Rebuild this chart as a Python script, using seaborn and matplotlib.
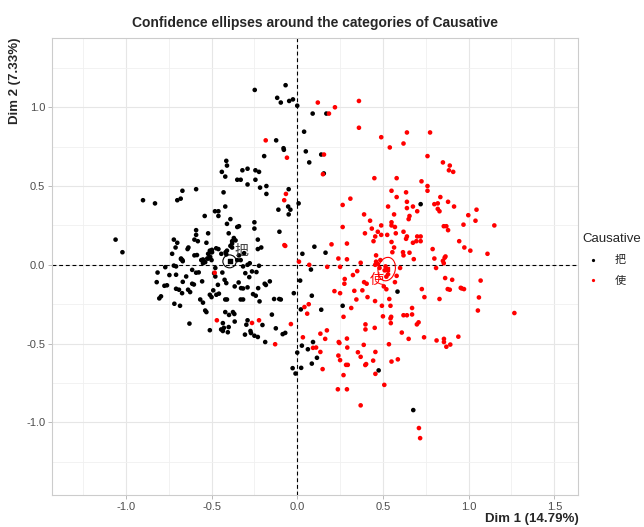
import numpy as np
import pandas as pd
import matplotlib
matplotlib.use("Agg")
import matplotlib.pyplot as plt
from matplotlib.patches import Ellipse
import seaborn as sns

# individuals, category 把 (Dim 1, Dim 2)
ba_x = [-0.248, -0.068, -0.117, -0.096, -0.047, -0.025, 0.0, -0.123, -0.08, -0.078,
        -0.193, -0.414, -0.41, -0.44, -0.42, -0.32, -0.29, -0.244, -0.223, -0.244,
        -0.35, -0.33, -0.29, -0.217, -0.18, -0.18, -0.05, -0.053, -0.04, -0.05,
        0.008, -0.11, -0.104, -0.90, -0.83, -0.70, -0.68, -0.67, -0.59, -0.43,
        -0.42, -0.48, -0.46, -0.46, -0.54, -0.39, -0.41, -0.35, -0.34, -0.40,
        -0.37, -0.38, -0.36, -0.25, -0.25, -0.23, -0.23, -0.21, -0.59, -0.59,
        -0.60, -0.58, -0.52, -0.53, -0.72, -0.70, -0.71, -0.73, -0.67, -0.678,
        -0.64, -0.635, -0.60, -0.585, -0.55, -0.51, -0.497, -0.50, -0.525, -0.56,
        -0.46, -0.41, -0.38, -0.418, -1.06, -1.02, -0.35, -0.29, -0.277, 0.03,
        0.04, 0.05, 0.09, 0.17, 0.07, 0.14, 0.155, 0.72, 0.10, 0.165,
        0.08, 0.585, 0.677, 0.475, 0.021, 0.14, 0.265, 0.085, 0.017, -0.02,
        -0.096, 0.092, 0.062, 0.115, 0.085, 0.027, 0.0, 0.023, -0.01, -0.027,
        -0.085, -0.07, -0.815, -0.82, -0.76, -0.775, -0.795, -0.805, -0.717, -0.684,
        -0.746, -0.707, -0.77, -0.707, -0.72, -0.668, -0.707, -0.69, -0.672, -0.648,
        -0.637, -0.625, -0.613, -0.603, -0.613, -0.59, -0.575, -0.555, -0.566, -0.55,
        -0.537, -0.53, -0.51, -0.50, -0.49, -0.485, -0.478, -0.463, -0.472, -0.457,
        -0.437, -0.424, -0.414, -0.42, -0.41, -0.42, -0.375, -0.398, -0.367, -0.434,
        -0.428, -0.444, -0.434, -0.40, -0.405, -0.365, -0.51, -0.629, -0.365, -0.342,
        -0.328, -0.316, -0.316, -0.33, -0.303, -0.28, -0.264, -0.238, -0.316, -0.29,
        -0.258, -0.242, -0.228, -0.22, -0.19, -0.183, -0.16, -0.135, -0.105, -0.148,
        -0.125, -0.29, -0.297, -0.203, -0.273, -0.27, -0.25, -0.23, -0.305, -0.187,
        -0.478, -0.678, -0.668, -0.55, -0.537, -0.52, -0.508, -0.52, -0.505, -0.498,
        -0.473, -0.443, -0.414, -0.39, -0.38, -0.34, -0.33, -0.223, -0.31]
ba_y = [1.11, 1.14, 1.06, 1.03, 1.04, 1.05, 1.01, 0.79, 0.74, 0.73,
        0.69, 0.66, 0.63, 0.59, 0.56, 0.60, 0.61, 0.60, 0.59, 0.54,
        0.54, 0.54, 0.51, 0.49, 0.50, 0.45, 0.48, 0.37, 0.35, 0.32,
        0.39, 0.35, 0.21, 0.41, 0.39, 0.41, 0.42, 0.47, 0.48, 0.46,
        0.37, 0.34, 0.34, 0.31, 0.31, 0.29, 0.26, 0.24, 0.245, 0.20,
        0.17, 0.15, 0.155, 0.27, 0.23, 0.16, 0.10, 0.11, 0.22, 0.19,
        0.16, 0.15, 0.20, 0.14, 0.16, 0.14, 0.11, 0.07, 0.03, 0.04,
        0.10, 0.11, 0.06, 0.062, 0.01, 0.09, 0.08, 0.03, 0.04, 0.03,
        0.10, 0.09, 0.11, 0.08, 0.16, 0.08, 0.03, 0.00, 0.01, 0.07,
        0.845, 0.72, 0.96, 0.96, 0.65, 0.70, 0.58, 0.385, 0.115, 0.077,
        -0.03, -0.17, -0.922, -0.67, -0.283, -0.285, -0.26, -0.196, -0.1, -0.18,
        -0.22, -0.49, -0.536, -0.59, -0.627, -0.513, -0.557, -0.654, -0.69, -0.656,
        -0.44, -0.432, -0.049, -0.11, -0.13, -0.133, -0.20, -0.213, -0.247, -0.26,
        -0.065, -0.063, -0.015, -0.01, -0.005, -0.108, -0.152, -0.158, -0.18, -0.074,
        -0.158, -0.173, -0.12, -0.125, -0.032, -0.05, -0.048, -0.105, -0.22, -0.24,
        -0.29, -0.30, -0.19, -0.205, -0.162, -0.053, -0.074, -0.127, -0.19, -0.183,
        -0.049, -0.095, -0.116, -0.22, -0.22, -0.30, -0.30, -0.318, -0.312, -0.37,
        -0.40, -0.41, -0.42, -0.395, -0.428, -0.36, -0.415, -0.373, -0.137, -0.112,
        -0.148, -0.15, -0.22, -0.22, -0.053, -0.078, -0.042, -0.046, -0.01, -0.143,
        -0.186, -0.196, -0.148, -0.232, -0.12, -0.128, -0.105, -0.217, -0.217, -0.316,
        -0.403, -0.352, -0.38, -0.382, -0.42, -0.433, -0.45, -0.458, -0.443, -0.49,
        -0.02, 0.036, 0.023, 0.034, 0.017, 0.04, 0.05, 0.07, 0.08, 0.095,
        0.105, 0.07, 0.066, 0.12, 0.135, 0.06, 0.03, -0.006, 0.074]

# individuals, category 使
shi_x = [-0.184, -0.06, -0.066, -0.076, -0.07, -0.075, 0.01, 0.07, 0.12, 0.22,
         0.36, 0.185, 0.36, 0.49, 0.64, 0.775, 0.62, 0.54, 0.156, 0.15,
         0.76, 0.85, 0.89, 0.885, 0.91, 0.45, 0.58, 0.725, 0.76, 0.76,
         0.55, 0.58, 0.635, 0.835, 0.31, 0.265, 0.64, 0.80, 0.82, 0.88,
         0.675, 0.64, 0.53, 0.82, 0.83, 0.915, 0.70, 0.655, 0.565, 0.39,
         0.998, 1.046, 1.04, 0.425, 0.65, 0.55, 0.55, 0.57, 0.49, 0.265,
         0.435, 0.395, 0.47, 0.525, 0.575, 0.49, 0.455, 0.62, 0.855, 0.87,
         0.88, 0.97, 1.15, 0.64, 0.635, 0.70, 0.72, 0.695, 0.72, 0.675,
         0.445, 0.55, 0.565, 0.555, 0.617, 0.62, 0.655, 0.68, 0.79, 0.80,
         0.945, 0.975, 1.01, 1.11, 0.86, 0.85, 0.855, 0.20, 0.29, 0.24,
         0.29, 0.37, 0.46, 0.485, 0.46, 0.47, 0.6, 0.81, 0.175, 0.25,
         0.35, 0.325, 0.455, 0.48, 0.51, 0.515, 0.58, 0.57, 0.53, 0.52,
         0.505, 0.52, 0.39, 0.405, 0.277, 0.275, 0.217, 0.25, 0.333, 0.38,
         0.41, 0.454, 0.345, 0.537, 0.494, 0.544, 0.315, 0.27, 0.50, 0.548,
         0.544, 0.546, 0.398, 0.398, 0.452, 0.62, 0.64, 0.67, 0.67, 0.698,
         0.708, 0.61, 0.65, 0.74, 0.727, 0.742, 0.83, 0.863, 0.904, 0.878,
         0.89, 0.954, 0.973, 0.96, 1.07, 1.06, 1.054, 1.267, 0.813, 0.856,
         0.856, 0.87, 0.893, 0.94, 0.865, 0.246, 0.242, 0.29, 0.292, 0.135,
         0.163, 0.173, 0.092, 0.11, 0.135, 0.24, 0.25, 0.354, 0.37, 0.285,
         0.295, 0.388, 0.402, 0.397, 0.443, 0.456, 0.535, 0.55, 0.587, 0.456,
         0.27, 0.148, 0.237, 0.29, 0.508, 0.37, 0.71, 0.717, 0.033, -0.037,
         0.042, 0.067, 0.058, -0.482, -0.469, -0.264, -0.223, -0.129]
shi_y = [0.79, 0.68, 0.45, 0.41, 0.12, 0.125, 0.02, 0.0, 1.03, 1.00,
         1.04, 0.96, 0.87, 0.81, 0.84, 0.84, 0.77, 0.745, 0.70, 0.575,
         0.69, 0.65, 0.63, 0.60, 0.59, 0.55, 0.55, 0.53, 0.50, 0.47,
         0.47, 0.43, 0.46, 0.43, 0.42, 0.38, 0.40, 0.385, 0.39, 0.40,
         0.37, 0.36, 0.37, 0.355, 0.34, 0.37, 0.34, 0.31, 0.32, 0.32,
         0.315, 0.35, 0.28, 0.28, 0.29, 0.27, 0.25, 0.24, 0.25, 0.24,
         0.23, 0.20, 0.21, 0.19, 0.20, 0.19, 0.18, 0.21, 0.245, 0.245,
         0.22, 0.255, 0.25, 0.18, 0.165, 0.18, 0.18, 0.15, 0.15, 0.14,
         0.15, 0.145, 0.11, 0.08, 0.08, 0.06, 0.077, 0.036, 0.10, 0.04,
         0.15, 0.11, 0.09, 0.07, 0.045, 0.025, 0.01, 0.13, 0.135, 0.04,
         0.035, 0.013, 0.06, 0.03, 0.02, 0.005, -0.02, -0.02, -0.013, -0.013,
         -0.04, -0.065, 0.0, -0.02, -0.035, -0.01, -0.07, -0.11, -0.06, -0.075,
         -0.137, -0.155, -0.11, -0.12, -0.09, -0.12, -0.167, -0.18, -0.165, -0.162,
         -0.205, -0.23, -0.22, -0.217, -0.26, -0.26, -0.274, -0.33, -0.327, -0.33,
         -0.34, -0.37, -0.378, -0.41, -0.40, -0.32, -0.32, -0.315, -0.274, -0.378,
         -0.365, -0.43, -0.47, -0.46, -0.154, -0.205, -0.217, -0.084, -0.095, -0.154,
         -0.158, -0.146, -0.154, -0.15, -0.10, -0.207, -0.29, -0.306, -0.48, -0.47,
         -0.49, -0.52, -0.506, -0.456, 0.053, -0.496, -0.49, -0.468, -0.525, -0.437,
         -0.47, -0.416, -0.527, -0.525, -0.553, -0.576, -0.605, -0.555, -0.584, -0.635,
         -0.635, -0.508, -0.63, -0.636, -0.608, -0.553, -0.504, -0.614, -0.60, -0.692,
         -0.70, -0.662, -0.79, -0.79, -0.762, -0.892, -1.036, -1.10, -0.46, -0.376,
         -0.268, -0.25, -0.31, -0.05, -0.352, -0.369, -0.352, -0.504]

categories = ["把", "使"]
colors = ["#000000", "#FF0000"]
# group means and confidence ellipse sizes (Dim 1, Dim 2)
mean_x = [-0.395, 0.522]
mean_y = [0.022, -0.027]
ell_w = [0.078, 0.10]
ell_h = [0.082, 0.15]
ell_angle = [0, -10]
label_x = [-0.325, 0.465]
label_y = [0.088, -0.095]

df = pd.DataFrame({
    "Dim1": ba_x + shi_x,
    "Dim2": ba_y + shi_y,
    "Causative": ["把"] * len(ba_x) + ["使"] * len(shi_x),
})

sns.set_style("white")
plt.rcParams["font.family"] = ["Liberation Sans", "Noto Sans CJK SC", "DejaVu Sans"]
plt.rcParams["axes.unicode_minus"] = False

fig = plt.figure(figsize=(6.44, 5.27), dpi=100)
ax = fig.add_axes([0.081, 0.061, 0.817, 0.867])

# grid
for v in np.arange(-1.5, 1.75, 0.5):
    ax.axvline(v, color="#e6e6e6", lw=0.8, zorder=0)
for v in np.arange(-1.25, 1.75, 0.5):
    ax.axvline(v, color="#f0f0f0", lw=0.6, zorder=0)
for v in np.arange(-1.5, 1.75, 0.5):
    ax.axhline(v, color="#e6e6e6", lw=0.8, zorder=0)
for v in np.arange(-1.25, 1.5, 0.5):
    ax.axhline(v, color="#f0f0f0", lw=0.6, zorder=0)

ax.axhline(0, color="black", lw=0.8, ls=(0, (3.5, 2.5)), zorder=1)
ax.axvline(0, color="black", lw=0.8, ls=(0, (3.5, 2.5)), zorder=1)

sns.scatterplot(data=df, x="Dim1", y="Dim2", hue="Causative", hue_order=categories,
                palette=colors, s=11, linewidth=0, ax=ax, zorder=2)

for i, c in enumerate(categories):
    ax.add_patch(Ellipse((mean_x[i], mean_y[i]), ell_w[i], ell_h[i], angle=ell_angle[i],
                         fill=False, edgecolor=colors[i], lw=0.8, zorder=3))
    ax.scatter([mean_x[i]], [mean_y[i]], marker="s", s=10, color=colors[i], zorder=4)
    ax.text(label_x[i], label_y[i], c, color="#444444" if i == 0 else colors[i],
            fontsize=10, ha="center", va="center", style="italic", zorder=4)

ax.set_xlim(-1.43, 1.64)
ax.set_ylim(-1.46, 1.44)
ax.set_xticks([-1.0, -0.5, 0.0, 0.5, 1.0, 1.5])
ax.set_yticks([-1.0, -0.5, 0.0, 0.5, 1.0])
ax.tick_params(axis="both", labelsize=8, labelcolor="#4d4d4d", color="#b0b0b0",
               length=3, width=0.6, left=True, bottom=True, pad=2)
for s in ax.spines.values():
    s.set_color("#cccccc")
    s.set_linewidth(0.8)

ax.set_xlabel("Dim 1 (14.79%)", loc="right", fontsize=9.5, fontweight="bold", labelpad=1)
ax.set_ylabel("Dim 2 (7.33%)", loc="top", fontsize=9.5, fontweight="bold", labelpad=4)
ax.set_title("Confidence ellipses around the categories of Causative",
             fontsize=10, fontweight="bold", pad=8)

leg = ax.legend(title="Causative", loc="center left", bbox_to_anchor=(1.003, 0.515),
                frameon=False, fontsize=8, title_fontsize=9.5, markerscale=0.7,
                handletextpad=0.9, borderaxespad=0.1, borderpad=0.1,
                labelspacing=0.9)
leg._legend_box.align = "left"

fig.savefig("out.png", dpi=100)
